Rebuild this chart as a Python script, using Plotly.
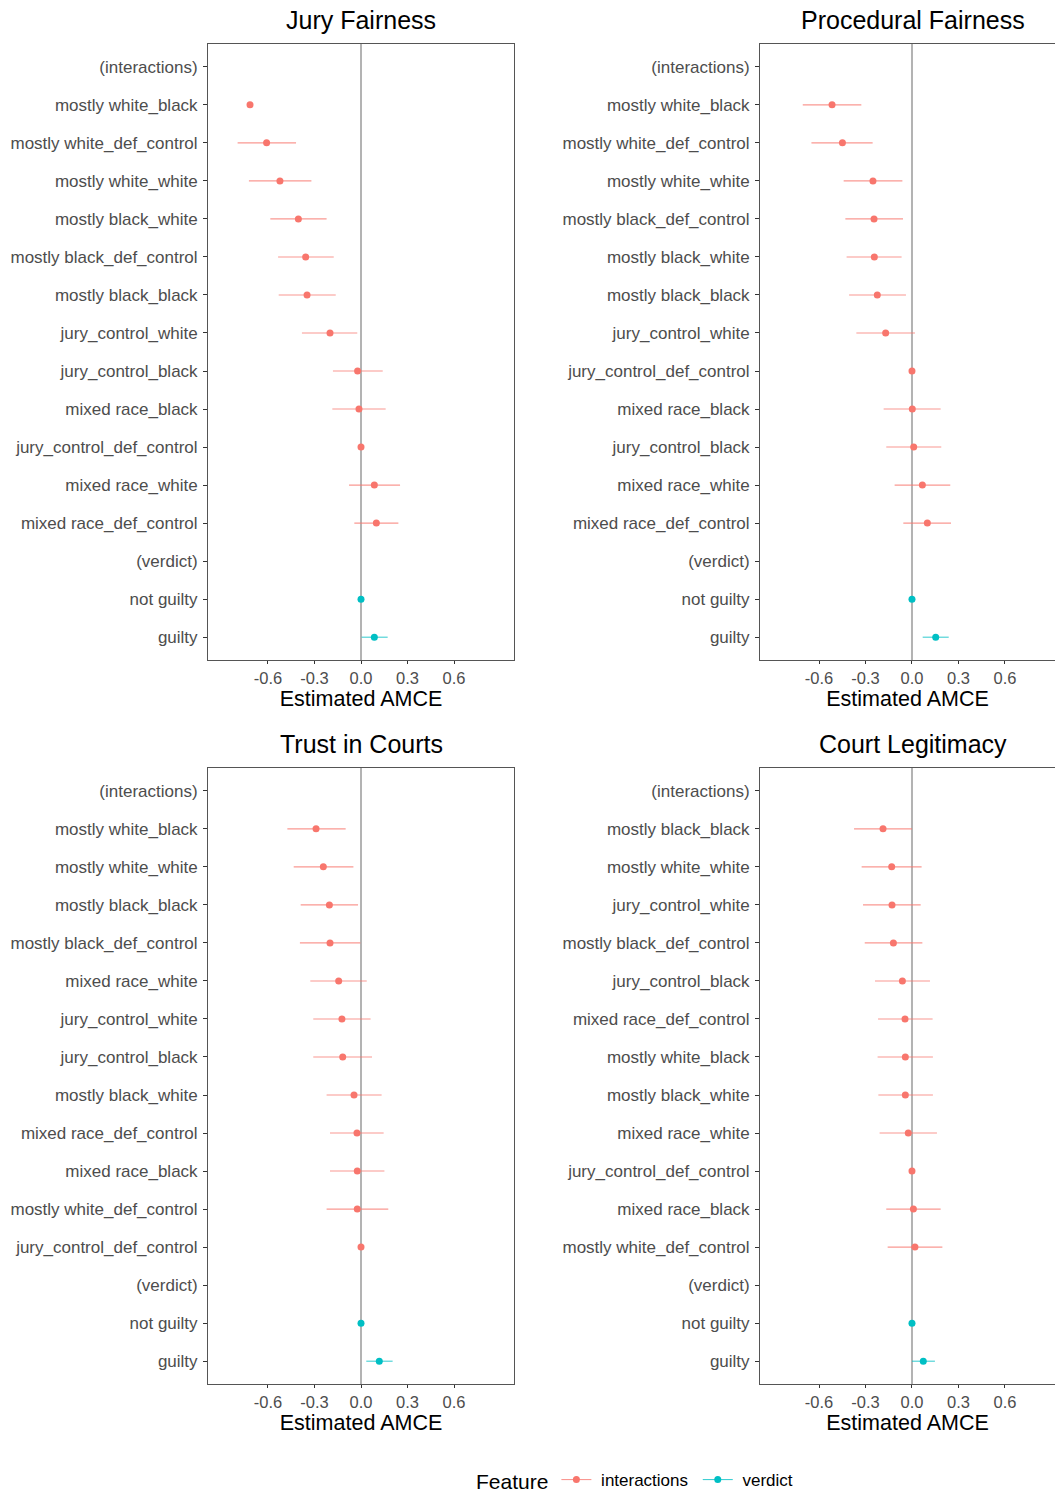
import plotly.graph_objects as go

RED = "#F8766D"
TEAL = "#00BFC4"
RED_LINE = "rgba(248,118,109,0.75)"
TEAL_LINE = "rgba(0,191,196,0.75)"

titles = ["Jury Fairness", "Procedural Fairness", "Trust in Courts", "Court Legitimacy"]

# ---- Jury Fairness ----
jf_levels = ["(interactions)", "mostly white_black", "mostly white_def_control", "mostly white_white",
             "mostly black_white", "mostly black_def_control", "mostly black_black", "jury_control_white",
             "jury_control_black", "mixed race_black", "jury_control_def_control", "mixed race_white",
             "mixed race_def_control", "(verdict)", "not guilty", "guilty"]
jf_int_names = jf_levels[1:13]
jf_int_est = [-0.716, -0.609, -0.523, -0.404, -0.357, -0.348, -0.200, -0.022, -0.013, 0.0, 0.086, 0.099]
jf_int_lo = [None, -0.796, -0.723, -0.585, -0.535, -0.531, -0.381, -0.181, -0.185, 0.0, -0.077, -0.043]
jf_int_hi = [None, -0.419, -0.320, -0.222, -0.176, -0.163, -0.024, 0.140, 0.159, 0.0, 0.252, 0.241]
jf_ver_names = ["not guilty", "guilty"]
jf_ver_est = [0.0, 0.086]
jf_ver_lo = [0.0, 0.004]
jf_ver_hi = [0.0, 0.172]

# ---- Procedural Fairness ----
pf_levels = ["(interactions)", "mostly white_black", "mostly white_def_control", "mostly white_white",
             "mostly black_def_control", "mostly black_white", "mostly black_black", "jury_control_white",
             "jury_control_def_control", "mixed race_black", "jury_control_black", "mixed race_white",
             "mixed race_def_control", "(verdict)", "not guilty", "guilty"]
pf_int_names = pf_levels[1:13]
pf_int_est = [-0.516, -0.449, -0.252, -0.245, -0.243, -0.224, -0.170, 0.0, 0.002, 0.011, 0.067, 0.099]
pf_int_lo = [-0.705, -0.649, -0.441, -0.430, -0.422, -0.406, -0.359, 0.0, -0.183, -0.166, -0.112, -0.056]
pf_int_hi = [-0.327, -0.254, -0.062, -0.058, -0.067, -0.039, 0.019, 0.0, 0.185, 0.189, 0.247, 0.252]
pf_ver_names = ["not guilty", "guilty"]
pf_ver_est = [0.0, 0.153]
pf_ver_lo = [0.0, 0.069]
pf_ver_hi = [0.0, 0.237]

# ---- Trust in Courts ----
tc_levels = ["(interactions)", "mostly white_black", "mostly white_white", "mostly black_black",
             "mostly black_def_control", "mixed race_white", "jury_control_white", "jury_control_black",
             "mostly black_white", "mixed race_def_control", "mixed race_black", "mostly white_def_control",
             "jury_control_def_control", "(verdict)", "not guilty", "guilty"]
tc_int_names = tc_levels[1:13]
tc_int_est = [-0.290, -0.243, -0.204, -0.200, -0.144, -0.123, -0.118, -0.045, -0.026, -0.024, -0.024, 0.0]
tc_int_lo = [-0.475, -0.434, -0.389, -0.394, -0.327, -0.308, -0.308, -0.222, -0.200, -0.200, -0.222, 0.0]
tc_int_hi = [-0.099, -0.049, -0.019, -0.004, 0.037, 0.062, 0.071, 0.133, 0.146, 0.151, 0.176, 0.0]
tc_ver_names = ["not guilty", "guilty"]
tc_ver_est = [0.0, 0.118]
tc_ver_lo = [0.0, 0.034]
tc_ver_hi = [0.0, 0.204]

# ---- Court Legitimacy ----
cl_levels = ["(interactions)", "mostly black_black", "mostly white_white", "jury_control_white",
             "mostly black_def_control", "jury_control_black", "mixed race_def_control", "mostly white_black",
             "mostly black_white", "mixed race_white", "jury_control_def_control", "mixed race_black",
             "mostly white_def_control", "(verdict)", "not guilty", "guilty"]
cl_int_names = cl_levels[1:13]
cl_int_est = [-0.187, -0.131, -0.129, -0.120, -0.062, -0.045, -0.043, -0.043, -0.024, 0.0, 0.009, 0.019]
cl_int_lo = [-0.374, -0.325, -0.316, -0.305, -0.239, -0.219, -0.222, -0.217, -0.209, 0.0, -0.166, -0.157]
cl_int_hi = [0.0, 0.062, 0.056, 0.067, 0.116, 0.133, 0.135, 0.135, 0.161, 0.0, 0.185, 0.196]
cl_ver_names = ["not guilty", "guilty"]
cl_ver_est = [0.0, 0.073]
cl_ver_lo = [0.0, 0.0]
cl_ver_hi = [0.0, 0.148]

x_ticks = [-0.6, -0.3, 0.0, 0.3, 0.6]
x_ticktext = ["-0.6", "-0.3", "0.0", "0.3", "0.6"]

panels = [
    (jf_levels, jf_int_names, jf_int_est, jf_int_lo, jf_int_hi, jf_ver_names, jf_ver_est, jf_ver_lo, jf_ver_hi),
    (pf_levels, pf_int_names, pf_int_est, pf_int_lo, pf_int_hi, pf_ver_names, pf_ver_est, pf_ver_lo, pf_ver_hi),
    (tc_levels, tc_int_names, tc_int_est, tc_int_lo, tc_int_hi, tc_ver_names, tc_ver_est, tc_ver_lo, tc_ver_hi),
    (cl_levels, cl_int_names, cl_int_est, cl_int_lo, cl_int_hi, cl_ver_names, cl_ver_est, cl_ver_lo, cl_ver_hi),
]

W, H = 1055, 1496
FONT = "Liberation Sans, Arial, Helvetica, sans-serif"

# pixel geometry (left, right, top, bottom)
boxes = [(208, 514, 44, 660), (760, 1066, 44, 660), (208, 514, 768, 1384), (760, 1066, 768, 1384)]
xranges = [[-0.987, 0.987], [-0.981, 0.923], [-0.987, 0.987], [-0.981, 0.923]]

fig = go.Figure()
layout = dict(
    width=W, height=H, margin=dict(l=0, r=0, t=0, b=0, autoexpand=False),
    paper_bgcolor="white", plot_bgcolor="white",
    font=dict(family=FONT, color="#4d4d4d", size=17),
    showlegend=True,
)


def err(est, lo, hi):
    plus = [None if h is None else h - e for e, h in zip(est, hi)]
    minus = [None if l is None else e - l for e, l in zip(est, lo)]
    return plus, minus


annotations = []
shapes = []
for i, (levels, in_n, in_e, in_lo, in_hi, v_n, v_e, v_lo, v_hi) in enumerate(panels):
    k = "" if i == 0 else str(i + 1)
    xa, ya = "x" + k, "y" + k
    l, r, t, b = boxes[i]
    right_clipped = r >= W
    p, m = err(in_e, in_lo, in_hi)
    fig.add_trace(go.Scatter(
        x=in_e, y=in_n, mode="markers", xaxis=xa, yaxis=ya, showlegend=False,
        marker=dict(color=RED, size=7),
        error_x=dict(type="data", symmetric=False, array=p, arrayminus=m,
                     color=RED_LINE, thickness=1.1, width=0),
        cliponaxis=False,
    ))
    p, m = err(v_e, v_lo, v_hi)
    fig.add_trace(go.Scatter(
        x=v_e, y=v_n, mode="markers", xaxis=xa, yaxis=ya, showlegend=False,
        marker=dict(color=TEAL, size=7),
        error_x=dict(type="data", symmetric=False, array=p, arrayminus=m,
                     color=TEAL_LINE, thickness=1.1, width=0),
        cliponaxis=False,
    ))
    layout["xaxis" + k] = dict(
        domain=[l / W, min(r / W, 1.0)], anchor=ya, range=xranges[i],
        tickvals=x_ticks, ticktext=x_ticktext, ticks="outside", ticklen=3, tickcolor="#333333",
        tickfont=dict(size=16.5, color="#4d4d4d", family=FONT),
        showgrid=False, zeroline=False, showline=True, linecolor="#555555", linewidth=1,
        mirror=True, automargin=False,
        title=dict(text="Estimated AMCE", font=dict(size=21.5, color="black", family=FONT), standoff=3),
    )
    layout["yaxis" + k] = dict(
        domain=[1 - b / H, 1 - t / H], anchor=xa, type="category",
        categoryorder="array", categoryarray=levels, range=[15.6, -0.6],
        tickvals=levels, ticktext=levels,
        ticks="outside", ticklen=4, tickcolor="#333333", ticklabelstandoff=2,
        tickfont=dict(size=17, color="#4d4d4d", family=FONT),
        showgrid=False, zeroline=False, showline=True, linecolor="#555555", linewidth=1,
        mirror=not right_clipped, automargin=False,
    )
    shapes.append(dict(type="line", xref=xa, yref=ya + " domain", x0=0, x1=0, y0=0, y1=1,
                       line=dict(color="#b3b3b3", width=2), layer="below"))
    cx = (l + 153) / W
    annotations.append(dict(text=titles[i], x=cx, xref="paper", y=1 - (t - 24) / H, yref="paper",
                            xanchor="center", yanchor="middle", showarrow=False,
                            font=dict(size=25, color="black", family=FONT)))

# legend-only entries
fig.add_trace(go.Scatter(x=[None], y=[None], mode="lines+markers", name="\u00a0interactions\u00a0",
                         marker=dict(color=RED, size=7), line=dict(color=RED_LINE, width=1.1)))
fig.add_trace(go.Scatter(x=[None], y=[None], mode="lines+markers", name="\u00a0verdict",
                         marker=dict(color=TEAL, size=7), line=dict(color=TEAL_LINE, width=1.1)))

layout["annotations"] = annotations
layout["shapes"] = shapes
layout["legend"] = dict(
    orientation="h", x=474 / W, xanchor="left", y=1 - 1481 / H, yanchor="middle",
    title=dict(text="Feature", font=dict(size=21, color="black", family=FONT), side="left"),
    font=dict(size=17, color="black", family=FONT),
)
fig.update_layout(**layout)
fig.write_html("out.html", config={"displayModeBar": False},
               post_script="document.body.style.margin='0';")
